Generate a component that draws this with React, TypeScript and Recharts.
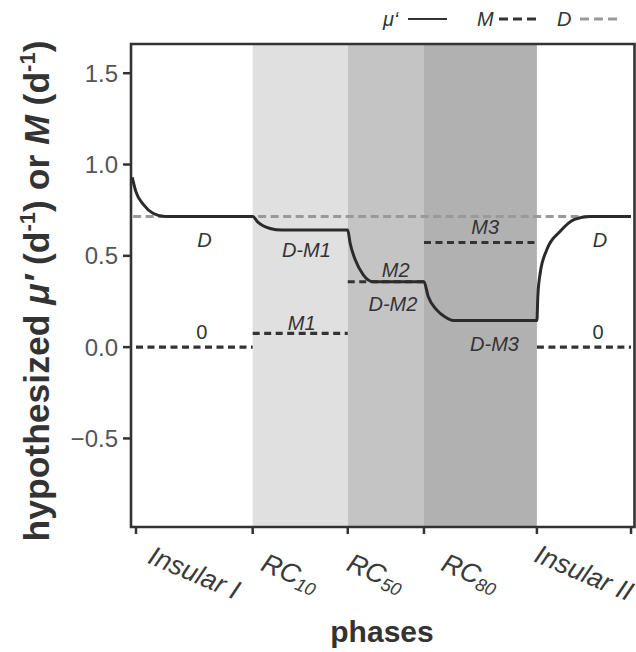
import { LineChart, Line, XAxis, YAxis, ReferenceArea, ReferenceDot } from 'recharts'

// phases along the x axis (time units), with the boundaries between them
const phaseNames = ['Insular I', 'RC', 'RC', 'RC', 'Insular II']
const phaseSubs = ['', '10', '50', '80', '']
const phaseBreaks = [0, 12.4, 22.5, 30.6, 42.6, 52.6]

// constant rates
const dRate = 0.715
const mRates = [0, 0.075, 0.358, 0.573, 0]

// hypothesized mu'
const muX = [-0.4, 0, 0.8, 1.8, 3.1, 12.4, 12.95, 13.5, 14.25, 15.5, 22.5, 22.75, 23.3, 24.15, 25.2, 30.6, 31.05, 31.95, 32.85, 33.7, 42.6, 42.7, 42.95, 43.65, 45.05, 46.6, 48.2, 52.6]
const muY = [0.93, 0.85, 0.78, 0.733, 0.715, 0.715, 0.685, 0.665, 0.65, 0.641, 0.641, 0.57, 0.478, 0.396, 0.358, 0.358, 0.277, 0.204, 0.165, 0.146, 0.146, 0.28, 0.405, 0.533, 0.633, 0.7, 0.715, 0.715]

// in-panel annotations
const noteText = ['D', '0', 'D-M1', 'M1', 'M2', 'D-M2', 'M3', 'D-M3', 'D', '0']
const noteX = [7.28, 7.0, 18.1, 17.6, 27.6, 27.3, 37.1, 38.1, 49.3, 49.1]
const noteY = [0.587, 0.084, 0.53, 0.13, 0.42, 0.237, 0.66, 0.018, 0.587, 0.084]

const yTicks = [-0.5, 0, 0.5, 1.0, 1.5]

const X_DOMAIN: [number, number] = [-0.53, 52.97]
const Y_DOMAIN: [number, number] = [-0.985, 1.66]
const FONT = 'Liberation Sans, Arial, Helvetica, sans-serif'
const INK = '#333333'
const shadeFills = ['#e0e0e0', '#c4c4c4', '#b1b1b1']

const phaseMids = phaseBreaks.slice(0, -1).map((b, i) => (b + phaseBreaks[i + 1]) / 2)

const muData = muX.map((x, i) => ({ x, y: muY[i] }))
const dData = [
  { x: -0.3, y: dRate },
  { x: phaseBreaks[phaseBreaks.length - 1], y: dRate },
]
const mData: { x: number; y: number | null }[] = []
mRates.forEach((m, i) => {
  if (i > 0) mData.push({ x: phaseBreaks[i], y: null })
  mData.push({ x: phaseBreaks[i], y: m })
  mData.push({ x: phaseBreaks[i + 1], y: m })
})

const PhaseTick = (props: any) => {
  const { x, y, payload } = props
  const v = payload.value
  if (phaseBreaks.includes(v)) {
    return <line x1={x} x2={x} y1={y} y2={y + 7} stroke={INK} strokeWidth={2.5} />
  }
  const i = phaseMids.indexOf(v)
  if (i < 0) return null
  const sub = phaseSubs[i]
  const dx = sub ? -10 : 0
  return (
    <text
      transform={`translate(${x + dx},${y + 46}) rotate(23)`}
      textAnchor='middle'
      dominantBaseline='central'
      fontFamily={FONT}
      fontStyle='italic'
      fontSize={27}
      fill='#3a3a3a'
    >
      {phaseNames[i]}
      {sub && (
        <tspan fontSize={18} dy={7}>
          {sub}
        </tspan>
      )}
    </text>
  )
}

const NoteShape = (text: string) => (p: any) => (
  <text
    x={p.cx}
    y={p.cy}
    textAnchor='middle'
    dominantBaseline='central'
    fontFamily={FONT}
    fontStyle={text === '0' ? 'normal' : 'italic'}
    fontSize={20}
    fill={INK}
  >
    {text}
  </text>
)

function Legend() {
  const t = { fontFamily: FONT, fontStyle: 'italic' as const, fontSize: 20, fill: INK }
  return (
    <svg width={636} height={40} style={{ position: 'absolute', left: 0, top: 0 }}>
      <text x={383} y={26} {...t}>μ‘</text>
      <line x1={408} x2={447} y1={19} y2={19} stroke={INK} strokeWidth={2} />
      <text x={477} y={26} {...t}>M</text>
      <line x1={499} x2={540} y1={19} y2={19} stroke={INK} strokeWidth={3} strokeDasharray='9 5' />
      <text x={557} y={26} {...t}>D</text>
      <line x1={580} x2={622} y1={19} y2={19} stroke='#999999' strokeWidth={3} strokeDasharray='9 5' />
    </svg>
  )
}

export default function App() {
  return (
    <div style={{ position: 'absolute', left: 0, top: 0, width: 636, height: 652, background: '#fff' }}>
      <LineChart width={636} height={652} margin={{ top: 44, right: 1.5, bottom: 0, left: 0 }}>
        {shadeFills.map((f, i) => (
          <ReferenceArea
            key={i}
            x1={phaseBreaks[i + 1]}
            x2={phaseBreaks[i + 2]}
            fill={f}
            fillOpacity={1}
            stroke='none'
          />
        ))}
        <XAxis
          type='number'
          dataKey='x'
          domain={X_DOMAIN}
          allowDataOverflow
          ticks={[...phaseBreaks, ...phaseMids]}
          interval={0}
          tick={<PhaseTick />}
          tickLine={false}
          axisLine={false}
          tickSize={0}
          tickMargin={0}
          height={125}
          label={() => (
            <text
              x={382}
              y={642}
              textAnchor='middle'
              fontFamily={FONT}
              fontWeight='bold'
              fontSize={30}
              fill={INK}
            >
              phases
            </text>
          )}
        />
        <YAxis
          type='number'
          domain={Y_DOMAIN}
          allowDataOverflow
          ticks={yTicks}
          width={131}
          axisLine={false}
          tickSize={8}
          tickMargin={5}
          tickLine={{ stroke: INK, strokeWidth: 2.5 }}
          tick={{ fill: '#555555', fontSize: 24, fontFamily: FONT }}
          tickFormatter={(v: number) => v.toFixed(1).replace('-', '\u2212')}
          label={() => (
            <text
              transform='translate(49,291) rotate(-90)'
              textAnchor='middle'
              fontFamily={FONT}
              fontWeight='bold'
              fontSize={35.5}
              fill={INK}
            >
              hypothesized <tspan fontStyle='italic'>μ′</tspan> (d
              <tspan fontSize={22} dy={-14}>-1</tspan>
              <tspan dy={14}>) or </tspan>
              <tspan fontStyle='italic'>M</tspan> (d
              <tspan fontSize={22} dy={-14}>-1</tspan>
              <tspan dy={14}>)</tspan>
            </text>
          )}
        />
        <Line
          data={dData}
          dataKey='y'
          type='linear'
          stroke='#999999'
          strokeWidth={3}
          strokeDasharray='8 4.5'
          dot={false}
          isAnimationActive={false}
        />
        <Line
          data={mData}
          dataKey='y'
          type='linear'
          stroke={INK}
          strokeWidth={3.2}
          strokeDasharray='7 4.5'
          dot={false}
          isAnimationActive={false}
        />
        <Line
          data={muData}
          dataKey='y'
          type='monotone'
          stroke='#2b2b2b'
          strokeWidth={3}
          dot={false}
          isAnimationActive={false}
        />
        {noteText.map((t, i) => (
          <ReferenceDot key={i} x={noteX[i]} y={noteY[i]} r={0} shape={NoteShape(t)} />
        ))}
        <ReferenceArea
          x1={X_DOMAIN[0]}
          x2={X_DOMAIN[1]}
          y1={Y_DOMAIN[0]}
          y2={Y_DOMAIN[1]}
          fill='none'
          stroke={INK}
          strokeWidth={2.6}
        />
      </LineChart>
      <Legend />
    </div>
  )
}
